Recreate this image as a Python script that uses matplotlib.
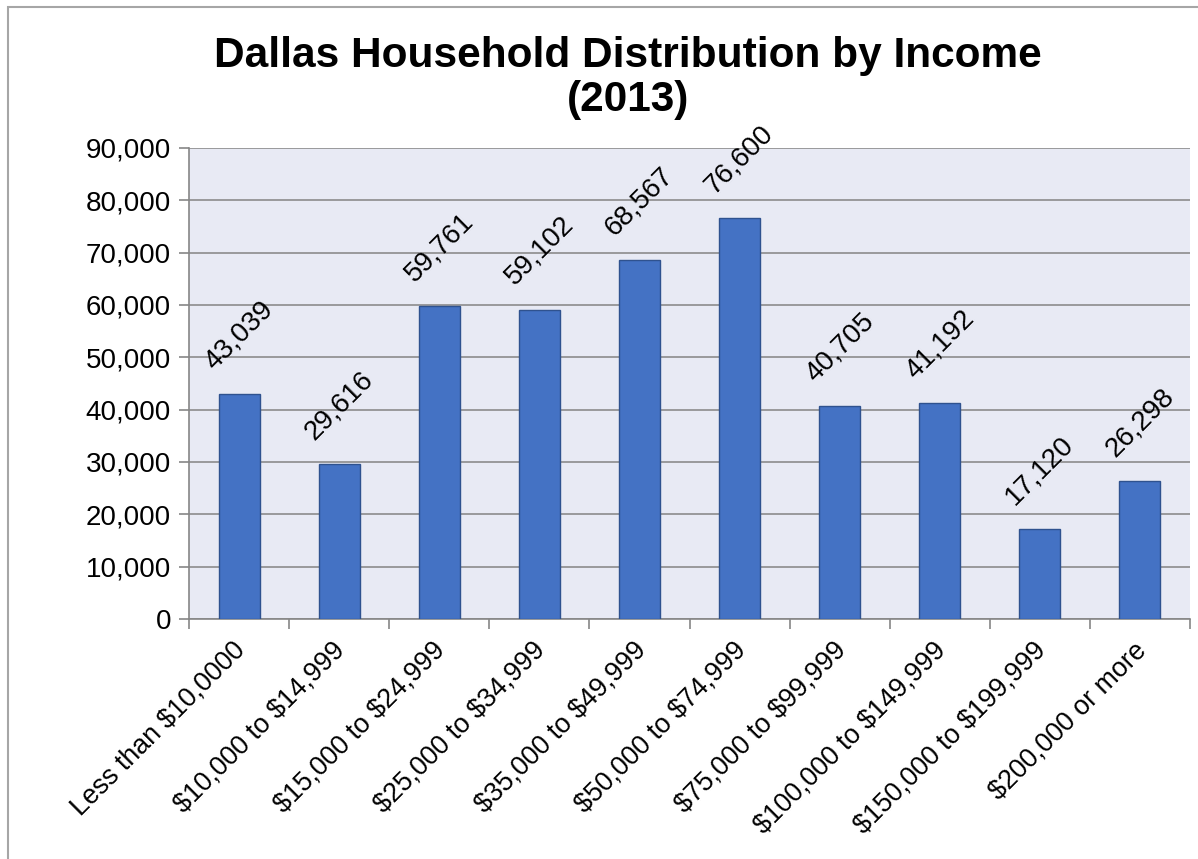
import matplotlib.pyplot as plt
from matplotlib.patches import Rectangle
from matplotlib.ticker import FuncFormatter, MultipleLocator
from matplotlib.transforms import ScaledTranslation

categories = ["Less than $10,0000", "$10,000 to $14,999", "$15,000 to $24,999",
              "$25,000 to $34,999", "$35,000 to $49,999", "$50,000 to $74,999",
              "$75,000 to $99,999", "$100,000 to $149,999", "$150,000 to $199,999",
              "$200,000 or more"]
households = [43039, 29616, 59761, 59102, 68567, 76600, 40705, 41192, 17120, 26298]

plt.rcParams['font.family'] = ['Liberation Sans', 'DejaVu Sans']
plt.rcParams['text.parse_math'] = False

fig = plt.figure(figsize=(11.98, 8.59), dpi=100)
# chart frame
fig.patches.append(Rectangle((8 / 1198, -0.1), 1.2, (859 - 7) / 859 + 0.1,
                             transform=fig.transFigure, fill=False,
                             edgecolor="#A6A6A6", linewidth=1.5))

ax = fig.add_axes([189 / 1198, 1 - 619 / 859, (1190 - 189) / 1198, (619 - 148) / 859])
ax.set_facecolor("#E8EAF4")

x = range(len(categories))
bars = ax.bar(x, households, width=0.41, color="#4472C4", edgecolor="#2F528F",
              linewidth=1, zorder=3)

for xi, v in zip(x, households):
    ax.annotate(f"{v:,}", (xi, v), xytext=(0, 14), textcoords="offset points",
                rotation=45, ha="center", va="bottom", fontsize=20, zorder=4)

ax.set_xlim(-0.5, len(categories) - 0.5)
ax.set_ylim(0, 90000)
ax.yaxis.set_major_locator(MultipleLocator(10000))
ax.yaxis.set_major_formatter(FuncFormatter(lambda v, p: f"{int(v):,}"))
ax.grid(axis="y", color="#8C8C8C", linewidth=1.2, zorder=1)

ax.set_xticks([i - 0.5 for i in range(len(categories) + 1)], minor=False)
ax.set_xticklabels([])
ax.set_xticks(list(x), minor=True)
ax.set_xticklabels(categories, minor=True, rotation=45, ha="right",
                   rotation_mode="anchor", fontsize=19.3)
ax.tick_params(axis="x", which="minor", length=0, pad=13)
ax.tick_params(axis="x", which="major", length=7, color="#868686", width=1.2)
ax.tick_params(axis="y", length=7, color="#868686", width=1.2, labelsize=20, pad=6)
# nudge category labels a little to the left
shift = ScaledTranslation(-7 / 100, 0, fig.dpi_scale_trans)
for lbl in ax.get_xticklabels(minor=True):
    lbl.set_transform(lbl.get_transform() + shift)

for side in ["top", "right"]:
    ax.spines[side].set_visible(False)
for side in ["left", "bottom"]:
    ax.spines[side].set_color("#868686")
    ax.spines[side].set_linewidth(1.2)

fig.text(628 / 1198, 1 - 78 / 859, "Dallas Household Distribution by Income\n(2013)",
         ha="center", va="center", fontsize=30.5, fontweight="bold", linespacing=1.1)

fig.savefig("out.png", dpi=100)
